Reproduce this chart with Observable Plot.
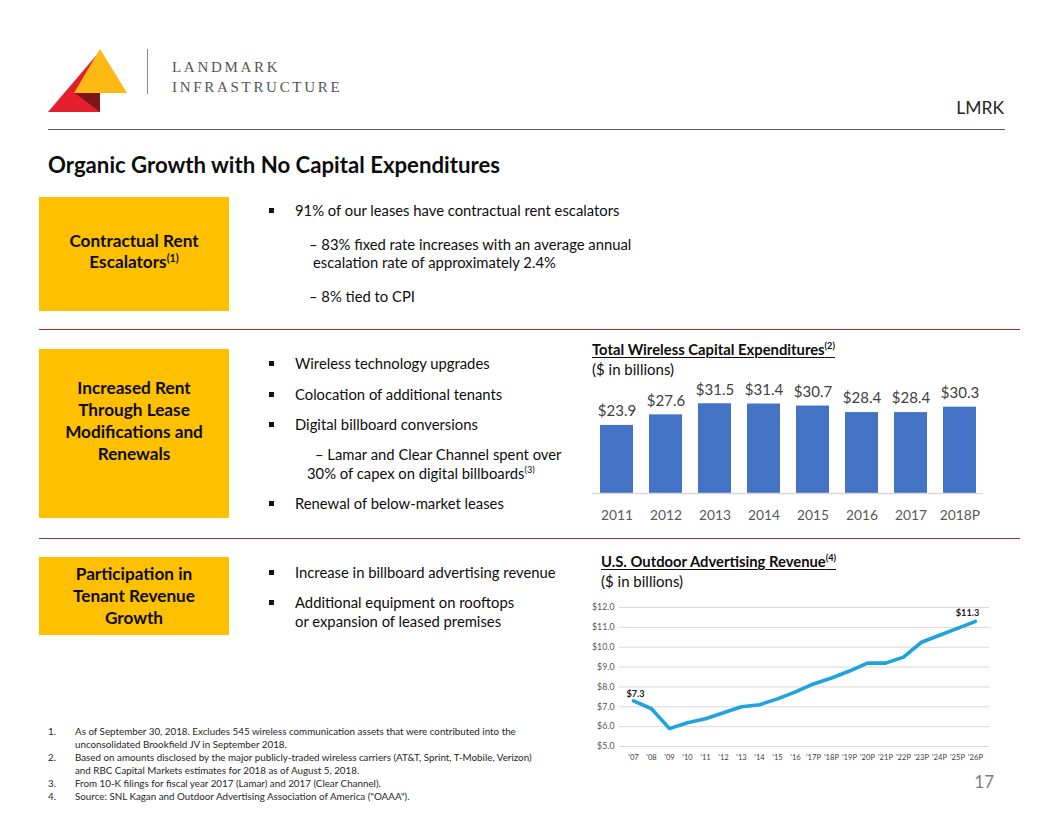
<!DOCTYPE html>
<html>
<head>
<meta charset="utf-8">
<script src="https://cdn.jsdelivr.net/npm/d3@7"></script>
<script src="https://cdn.jsdelivr.net/npm/@observablehq/plot@0.6"></script>
<style>
  html, body { margin: 0; padding: 0; background: #fff; }
  #slide { position: relative; width: 1056px; height: 816px; overflow: hidden; font-family: Lato, "Open Sans", sans-serif; color: #0d0d0d; }
  .t { position: absolute; white-space: nowrap; }
  .box { position: absolute; background: #FFC000; }
  .rule { position: absolute; height: 0; }
  sup { font-size: 0.62em; vertical-align: 0; position: relative; top: -0.55em; }
  .chart { position: absolute; }
  .sq { position: absolute; width: 5px; height: 5px; background: #111; }
</style>
</head>
<body>
<div id="slide"></div>
<script>
// ---------- DATA ----------
const capexYears = ["2011", "2012", "2013", "2014", "2015", "2016", "2017", "2018P"];
const capexValues = [23.9, 27.6, 31.5, 31.4, 30.7, 28.4, 28.4, 30.3];

const adYears = ["'07", "'08", "'09", "'10", "'11", "'12", "'13", "'14", "'15", "'16",
                 "'17P", "'18P", "'19P", "'20P", "'21P", "'22P", "'23P", "'24P", "'25P", "'26P"];
const adRevenue = [7.3, 6.9, 5.9, 6.2, 6.4, 6.7, 7.0, 7.1, 7.4, 7.75,
                   8.15, 8.45, 8.8, 9.2, 9.2, 9.5, 10.25, 10.6, 10.95, 11.3];
const adTicks = [5, 6, 7, 8, 9, 10, 11, 12];

const footnotes = [
  ["1.", "As of September 30, 2018. Excludes 545 wireless communication assets that were contributed into the"],
  ["", "unconsolidated Brookfield JV in September 2018."],
  ["2.", "Based on amounts disclosed by the major publicly-traded wireless carriers (AT&T, Sprint, T-Mobile, Verizon)"],
  ["", "and RBC Capital Markets estimates for 2018 as of August 5, 2018."],
  ["3.", "From 10-K filings for fiscal year 2017 (Lamar) and 2017 (Clear Channel)."],
  ["4.", "Source: SNL Kagan and Outdoor Advertising Association of America (\"OAAA\")."]
];

// ---------- LAYOUT HELPERS ----------
const slide = document.getElementById("slide");
function el(tag, cls, style, html) {
  const e = document.createElement(tag);
  if (cls) e.className = cls;
  Object.assign(e.style, style || {});
  if (html != null) e.innerHTML = html;
  slide.appendChild(e);
  return e;
}
// place a single line of text with its visual centre at cy
function txt(html, x, cy, size, opts = {}) {
  const lh = opts.lh || Math.round(size * 1.25);
  const s = {
    top: (cy - lh / 2 - 1) + "px",
    fontSize: size + "px",
    lineHeight: lh + "px",
    fontWeight: opts.weight || 400,
    color: opts.color || "#0d0d0d"
  };
  if (opts.anchor === "end") s.right = (1056 - x) + "px";
  else s.left = x + "px";
  if (opts.letter) s.letterSpacing = opts.letter;
  if (opts.family) s.fontFamily = opts.family;
  if (opts.underline) { s.textDecoration = "underline"; s.textUnderlineOffset = "2px"; s.textDecorationThickness = "1.4px"; }
  return el("div", "t", s, html);
}
function box(x, y, w, h) { el("div", "box", { left: x + "px", top: y + "px", width: w + "px", height: h + "px" }); }
function boxText(lines, x, w, firstCy, lh, size) {
  el("div", "t", {
    left: x + "px", width: w + "px", top: (firstCy - lh / 2 - 1) + "px",
    textAlign: "center", fontSize: size + "px", lineHeight: lh + "px",
    fontWeight: 700, color: "#0d0d0d", whiteSpace: "normal"
  }, lines.join("<br>"));
}
function hrule(x, y, w, color, t) { el("div", "rule", { left: x + "px", top: y + "px", width: w + "px", borderTop: t + "px solid " + color }); }
const BS = 14.8;
function bullet(html, cy) {
  el("div", "sq", { left: "269px", top: (cy - 3.5) + "px" });
  txt(html, 295, cy, BS, { color: "#0d0d0d" });
}

// ---------- HEADER ----------
el("div", null, { position: "absolute", left: "0px", top: "0px" },
  `<svg width="140" height="130" style="display:block">
     <polygon points="48,112 100,51 100,112" fill="#E31E2D"/>
     <polygon points="100,49 74,93 127,93" fill="#FDB913"/>
     <polygon points="75,93 100,93 100,112" fill="#7A1518"/>
   </svg>`);
el("div", "rule", { left: "147px", top: "49px", width: "0px", height: "45px", borderLeft: "1.5px solid #8c8c8c" });
txt("LANDMARK", 172, 68, 15, { family: "'Liberation Serif', 'DejaVu Serif', serif", color: "#555", letter: "2.7px" });
txt("INFRASTRUCTURE", 172, 88, 15, { family: "'Liberation Serif', 'DejaVu Serif', serif", color: "#555", letter: "2.7px" });

txt("LMRK", 1004, 109, 17.5, { color: "#262626", anchor: "end" });
hrule(48, 129, 957, "#595959", 1.5);

txt("Organic Growth with No Capital Expenditures", 48, 166, 22.2, { weight: 700, color: "#0d0d0d" });

// ---------- SECTION 1 ----------
box(39, 197, 190, 114);
boxText(["Contractual Rent", "Escalators<sup>(1)</sup>"], 39, 190, 241, 21, 17.2);
bullet("91% of our leases have contractual rent escalators", 211);
txt("– 83% fixed rate increases with an average annual", 309, 245, BS);
txt("escalation rate of approximately 2.4%", 313, 263, BS);
txt("– 8% tied to CPI", 309, 297, BS);

hrule(39, 329, 981, "#A8332F", 1.3);

// ---------- SECTION 2 ----------
box(39, 349, 190, 169);
boxText(["Increased Rent", "Through Lease", "Modifications and", "Renewals"], 39, 190, 389, 22, 17.2);
bullet("Wireless technology upgrades", 364);
bullet("Colocation of additional tenants", 395);
bullet("Digital billboard conversions", 425);
txt("– Lamar and Clear Channel spent over", 315, 455, BS);
txt("30% of capex on digital billboards<sup>(3)</sup>", 307, 474, BS);
bullet("Renewal of below-market leases", 504);

hrule(39, 538, 981, "#A8332F", 1.3);

// ---------- SECTION 3 ----------
box(39, 557, 190, 78);
boxText(["Participation in", "Tenant Revenue", "Growth"], 39, 190, 575, 22, 17.2);
bullet("Increase in billboard advertising revenue", 573);
bullet("Additional equipment on rooftops", 603);
txt("or expansion of leased premises", 295, 622, BS);

// ---------- CHART TITLES ----------
txt("Total Wireless Capital Expenditures<sup>(2)</sup>", 592, 350, 14.8, { weight: 700, underline: true });
txt("($ in billions)", 592, 370, 15);
txt("U.S. Outdoor Advertising Revenue<sup>(4)</sup>", 601, 562, 14.8, { weight: 700, underline: true });
txt("($ in billions)", 601, 582, 15);

// ---------- BAR CHART ----------
const capex = capexYears.map((year, i) => ({ year, value: capexValues[i] }));
const bar = Plot.plot({
  width: 430, height: 150,
  marginLeft: 10, marginRight: 5, marginTop: 15, marginBottom: 35,
  style: { fontFamily: "Lato, sans-serif", background: "transparent", overflow: "visible" },
  x: { domain: capexYears, padding: 0.336, label: null },
  y: { domain: [0, 35.1], axis: null },
  marks: [
    Plot.barY(capex, { x: "year", y: "value", fill: "#4472C4" }),
    Plot.ruleY([0], { stroke: "#d9d9d9", strokeWidth: 1.3, insetLeft: 12, insetRight: 12 }),
    Plot.text(capex, { x: "year", y: "value", text: d => "$" + d.value.toFixed(1), dy: -14, fontSize: 15, fill: "#404040" }),
    Plot.axisX({ tickSize: 0, tickPadding: 17, fontSize: 13.8, fill: "#595959", label: null })
  ]
});
const barWrap = el("div", "chart", { left: "570px", top: "378px" });
barWrap.appendChild(bar);

// ---------- LINE CHART ----------
const ad = adYears.map((year, i) => ({ year, value: adRevenue[i] }));
const line = Plot.plot({
  width: 420, height: 180,
  marginLeft: 39, marginRight: 11, marginTop: 17, marginBottom: 24,
  style: { fontFamily: "Lato, sans-serif", background: "transparent", overflow: "visible" },
  x: { type: "point", domain: adYears, padding: 0.3, label: null },
  y: { domain: [5, 12], label: null },
  marks: [
    Plot.gridY(adTicks, { stroke: "#d9d9d9", strokeOpacity: 1, strokeWidth: 1 }),
    Plot.axisY(adTicks, { tickSize: 0, tickPadding: 5, fontSize: 8.8, fill: "#595959", tickFormat: d => "$" + d.toFixed(1), label: null }),
    Plot.axisX({ tickSize: 0, tickPadding: 8, fontSize: 7.6, fill: "#404040", label: null }),
    Plot.line(ad, { x: "year", y: "value", stroke: "#1FA3DF", strokeWidth: 3.6 }),
    Plot.text(ad, Plot.selectFirst({ x: "year", y: "value", text: d => "$" + d.value.toFixed(1), dy: -7, dx: 2, fontSize: 9.2, fontWeight: "bold", fill: "#1a1a1a" })),
    Plot.text(ad, Plot.selectLast({ x: "year", y: "value", text: d => "$" + d.value.toFixed(1), dy: -8, dx: -8, fontSize: 9.2, fontWeight: "bold", fill: "#1a1a1a" }))
  ]
});
const lineWrap = el("div", "chart", { left: "580px", top: "590px" });
lineWrap.appendChild(line);

// ---------- FOOTNOTES ----------
footnotes.forEach(([n, t], i) => {
  const cy = 732 + i * 13;
  if (n) txt(n, 48, cy, 9.8, { color: "#262626" });
  txt(t, 75, cy, 9.8, { color: "#262626" });
});

txt("17", 994, 782, 17, { color: "#7f7f7f", anchor: "end" });
</script>
</body>
</html>
